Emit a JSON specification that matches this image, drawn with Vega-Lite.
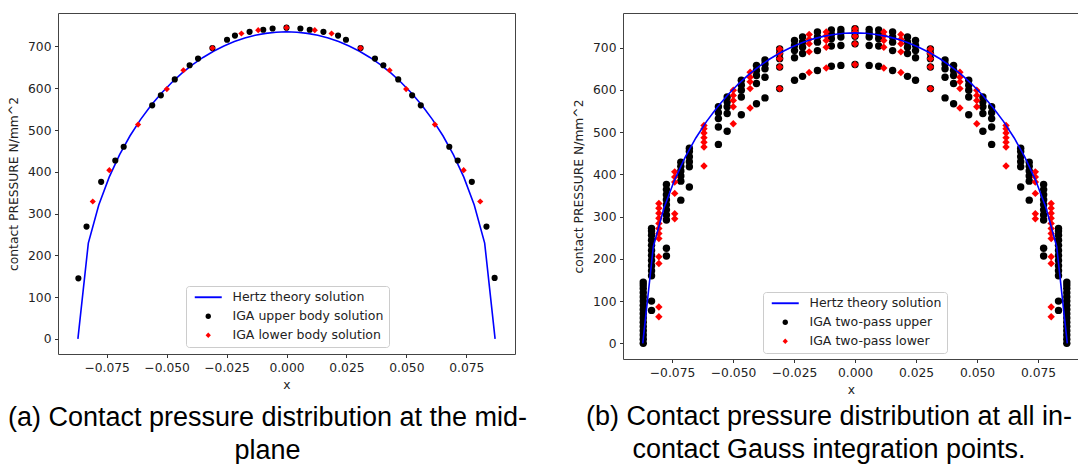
{
  "$schema": "https://vega.github.io/schema/vega-lite/v6.json",
  "padding": {"left": 7, "top": 12, "right": 0, "bottom": 0},
  "autosize": {"type": "pad"},
  "background": "white",
  "config": {
    "view": {"stroke": "#444444", "strokeWidth": 1},
    "axis": {"domain": false, "grid": false, "labelFont": "DejaVu Sans", "labelFontSize": 12.3, "labelColor": "#222222", "tickColor": "#333333", "tickSize": 3.5, "labelPadding": 3.5, "titleFont": "DejaVu Sans", "titleFontSize": 12.3, "titleFontWeight": "normal", "titleColor": "#222222"},
    "axisX": {"titlePadding": 5},
    "axisY": {"titlePadding": 7},
    "legend": {"labelFont": "DejaVu Sans", "labelFontSize": 12.5, "labelColor": "#222222", "title": null, "orient": "none", "padding": 5, "cornerRadius": 3, "strokeColor": "#cccccc", "fillColor": "rgba(255,255,255,0.8)", "rowPadding": 6, "labelOffset": 18, "symbolOffset": 11, "symbolSize": 28},
    "title": {"font": "Liberation Sans", "fontSize": 27, "fontWeight": "normal", "color": "#000000", "lineHeight": 33}
  },
  "datasets": {
    "hertz": [
      {"x": -0.087, "p": 0}, {"x": -0.08265, "p": 229.5}, {"x": -0.0783, "p": 320.4}, {"x": -0.07395, "p": 387.2}, {"x": -0.0696, "p": 441.0}, {"x": -0.06525, "p": 486.2}, {"x": -0.0609, "p": 524.9}, {"x": -0.05655, "p": 558.5}, {"x": -0.0522, "p": 588.0}, {"x": -0.04785, "p": 613.8}, {"x": -0.0435, "p": 636.5}, {"x": -0.03915, "p": 656.4}, {"x": -0.0348, "p": 673.6}, {"x": -0.03045, "p": 688.5}, {"x": -0.0261, "p": 701.1}, {"x": -0.02175, "p": 711.7}, {"x": -0.0174, "p": 720.2}, {"x": -0.01305, "p": 726.7}, {"x": -0.0087, "p": 731.3}, {"x": -0.00435, "p": 734.1},
      {"x": 0, "p": 735},
      {"x": 0.00435, "p": 734.1}, {"x": 0.0087, "p": 731.3}, {"x": 0.01305, "p": 726.7}, {"x": 0.0174, "p": 720.2}, {"x": 0.02175, "p": 711.7}, {"x": 0.0261, "p": 701.1}, {"x": 0.03045, "p": 688.5}, {"x": 0.0348, "p": 673.6}, {"x": 0.03915, "p": 656.4}, {"x": 0.0435, "p": 636.5}, {"x": 0.04785, "p": 613.8}, {"x": 0.0522, "p": 588.0}, {"x": 0.05655, "p": 558.5}, {"x": 0.0609, "p": 524.9}, {"x": 0.06525, "p": 486.2}, {"x": 0.0696, "p": 441.0}, {"x": 0.07395, "p": 387.2}, {"x": 0.0783, "p": 320.4}, {"x": 0.08265, "p": 229.5}, {"x": 0.087, "p": 0}
    ],
    "a": [
      {"x": -0.0868, "p": 145, "s": "U"}, {"x": -0.0834, "p": 269, "s": "U"}, {"x": -0.0773, "p": 376, "s": "U"}, {"x": -0.0714, "p": 427, "s": "U"}, {"x": -0.0679, "p": 460, "s": "U"}, {"x": -0.056, "p": 559, "s": "U"}, {"x": -0.0524, "p": 583, "s": "U"}, {"x": -0.0466, "p": 621, "s": "U"}, {"x": -0.0404, "p": 655, "s": "U"}, {"x": -0.0369, "p": 671, "s": "U"}, {"x": -0.0309, "p": 696, "s": "U"}, {"x": -0.0248, "p": 716, "s": "U"}, {"x": -0.0215, "p": 726, "s": "U"}, {"x": -0.0154, "p": 735, "s": "U"}, {"x": -0.0097, "p": 740, "s": "U"}, {"x": -0.0058, "p": 743, "s": "U"}, {"x": 0, "p": 745, "s": "U"}, {"x": 0.0058, "p": 743, "s": "U"}, {"x": 0.0097, "p": 740, "s": "U"}, {"x": 0.0154, "p": 735, "s": "U"}, {"x": 0.0215, "p": 726, "s": "U"}, {"x": 0.0248, "p": 716, "s": "U"}, {"x": 0.0309, "p": 696, "s": "U"}, {"x": 0.0369, "p": 671, "s": "U"}, {"x": 0.0404, "p": 655, "s": "U"}, {"x": 0.0466, "p": 621, "s": "U"}, {"x": 0.0524, "p": 583, "s": "U"}, {"x": 0.056, "p": 559, "s": "U"}, {"x": 0.0679, "p": 460, "s": "U"}, {"x": 0.0714, "p": 427, "s": "U"}, {"x": 0.0773, "p": 376, "s": "U"}, {"x": 0.0834, "p": 269, "s": "U"}, {"x": 0.0868, "p": 146, "s": "U"},
      {"x": -0.0808, "p": 329, "s": "L"}, {"x": -0.0739, "p": 404, "s": "L"}, {"x": -0.0619, "p": 513, "s": "L"}, {"x": -0.0499, "p": 598, "s": "L"}, {"x": -0.043, "p": 643, "s": "L"}, {"x": -0.0309, "p": 696, "s": "L"}, {"x": -0.0188, "p": 731, "s": "L"}, {"x": -0.0118, "p": 739, "s": "L"}, {"x": 0, "p": 745, "s": "L"}, {"x": 0.0118, "p": 739, "s": "L"}, {"x": 0.0188, "p": 731, "s": "L"}, {"x": 0.0309, "p": 696, "s": "L"}, {"x": 0.043, "p": 643, "s": "L"}, {"x": 0.0499, "p": 598, "s": "L"}, {"x": 0.0619, "p": 513, "s": "L"}, {"x": 0.0739, "p": 404, "s": "L"}, {"x": 0.0808, "p": 329, "s": "L"}
    ],
    "b": [
      {"x": -0.0868, "p": 0, "s": "U"}, {"x": -0.0868, "p": 10, "s": "U"}, {"x": -0.0868, "p": 20, "s": "U"}, {"x": -0.0868, "p": 30, "s": "U"}, {"x": -0.0868, "p": 40, "s": "U"}, {"x": -0.0868, "p": 50, "s": "U"}, {"x": -0.0868, "p": 60, "s": "U"}, {"x": -0.0868, "p": 70, "s": "U"}, {"x": -0.0868, "p": 80, "s": "U"}, {"x": -0.0868, "p": 90, "s": "U"}, {"x": -0.0868, "p": 100, "s": "U"}, {"x": -0.0868, "p": 110, "s": "U"}, {"x": -0.0868, "p": 120, "s": "U"}, {"x": -0.0868, "p": 130, "s": "U"}, {"x": -0.0868, "p": 138, "s": "U"}, {"x": -0.0868, "p": 145, "s": "U"},
      {"x": -0.0834, "p": 160, "s": "U"}, {"x": -0.0834, "p": 172, "s": "U"}, {"x": -0.0834, "p": 184, "s": "U"}, {"x": -0.0834, "p": 196, "s": "U"}, {"x": -0.0834, "p": 208, "s": "U"}, {"x": -0.0834, "p": 220, "s": "U"}, {"x": -0.0834, "p": 232, "s": "U"}, {"x": -0.0834, "p": 244, "s": "U"}, {"x": -0.0834, "p": 256, "s": "U"}, {"x": -0.0834, "p": 266, "s": "U"}, {"x": -0.0834, "p": 272, "s": "U"}, {"x": -0.0834, "p": 100, "s": "U"}, {"x": -0.0834, "p": 78, "s": "U"},
      {"x": -0.0773, "p": 292, "s": "U"}, {"x": -0.0773, "p": 304, "s": "U"}, {"x": -0.0773, "p": 316, "s": "U"}, {"x": -0.0773, "p": 328, "s": "U"}, {"x": -0.0773, "p": 340, "s": "U"}, {"x": -0.0773, "p": 352, "s": "U"}, {"x": -0.0773, "p": 364, "s": "U"}, {"x": -0.0773, "p": 376, "s": "U"}, {"x": -0.0773, "p": 225, "s": "U"}, {"x": -0.0773, "p": 207, "s": "U"},
      {"x": -0.0714, "p": 384, "s": "U"}, {"x": -0.0714, "p": 396, "s": "U"}, {"x": -0.0714, "p": 408, "s": "U"}, {"x": -0.0714, "p": 419, "s": "U"}, {"x": -0.0714, "p": 429, "s": "U"}, {"x": -0.0714, "p": 339, "s": "U"},
      {"x": -0.0679, "p": 418, "s": "U"}, {"x": -0.0679, "p": 430, "s": "U"}, {"x": -0.0679, "p": 442, "s": "U"}, {"x": -0.0679, "p": 454, "s": "U"}, {"x": -0.0679, "p": 462, "s": "U"}, {"x": -0.0679, "p": 370, "s": "U"},
      {"x": -0.056, "p": 532, "s": "U"}, {"x": -0.056, "p": 546, "s": "U"}, {"x": -0.056, "p": 560, "s": "U"}, {"x": -0.056, "p": 512, "s": "U"}, {"x": -0.056, "p": 471, "s": "U"},
      {"x": -0.0524, "p": 560, "s": "U"}, {"x": -0.0524, "p": 572, "s": "U"}, {"x": -0.0524, "p": 583, "s": "U"}, {"x": -0.0524, "p": 544, "s": "U"}, {"x": -0.0524, "p": 502, "s": "U"},
      {"x": -0.0466, "p": 599, "s": "U"}, {"x": -0.0466, "p": 611, "s": "U"}, {"x": -0.0466, "p": 623, "s": "U"}, {"x": -0.0466, "p": 583, "s": "U"}, {"x": -0.0466, "p": 541, "s": "U"},
      {"x": -0.0404, "p": 634, "s": "U"}, {"x": -0.0404, "p": 646, "s": "U"}, {"x": -0.0404, "p": 658, "s": "U"}, {"x": -0.0404, "p": 615, "s": "U"}, {"x": -0.0404, "p": 567, "s": "U"},
      {"x": -0.0369, "p": 650, "s": "U"}, {"x": -0.0369, "p": 661, "s": "U"}, {"x": -0.0369, "p": 671, "s": "U"}, {"x": -0.0369, "p": 630, "s": "U"}, {"x": -0.0369, "p": 581, "s": "U"},
      {"x": -0.0309, "p": 674, "s": "U"}, {"x": -0.0309, "p": 686, "s": "U"}, {"x": -0.0309, "p": 697, "s": "U"}, {"x": -0.0309, "p": 654, "s": "U"}, {"x": -0.0309, "p": 603, "s": "U"},
      {"x": -0.0248, "p": 693, "s": "U"}, {"x": -0.0248, "p": 705, "s": "U"}, {"x": -0.0248, "p": 717, "s": "U"}, {"x": -0.0248, "p": 676, "s": "U"}, {"x": -0.0248, "p": 623, "s": "U"},
      {"x": -0.0215, "p": 701, "s": "U"}, {"x": -0.0215, "p": 713, "s": "U"}, {"x": -0.0215, "p": 725, "s": "U"}, {"x": -0.0215, "p": 686, "s": "U"}, {"x": -0.0215, "p": 632, "s": "U"},
      {"x": -0.0154, "p": 713, "s": "U"}, {"x": -0.0154, "p": 725, "s": "U"}, {"x": -0.0154, "p": 737, "s": "U"}, {"x": -0.0154, "p": 693, "s": "U"}, {"x": -0.0154, "p": 646, "s": "U"},
      {"x": -0.0097, "p": 721, "s": "U"}, {"x": -0.0097, "p": 731, "s": "U"}, {"x": -0.0097, "p": 742, "s": "U"}, {"x": -0.0097, "p": 704, "s": "U"}, {"x": -0.0097, "p": 656, "s": "U"},
      {"x": -0.0058, "p": 725, "s": "U"}, {"x": -0.0058, "p": 735, "s": "U"}, {"x": -0.0058, "p": 743, "s": "U"}, {"x": -0.0058, "p": 705, "s": "U"}, {"x": -0.0058, "p": 658, "s": "U"},
      {"x": 0, "p": 727, "s": "U"}, {"x": 0, "p": 737, "s": "U"}, {"x": 0, "p": 745, "s": "U"}, {"x": 0, "p": 709, "s": "U"}, {"x": 0, "p": 660, "s": "U"},
      {"x": 0.0058, "p": 725, "s": "U"}, {"x": 0.0058, "p": 735, "s": "U"}, {"x": 0.0058, "p": 743, "s": "U"}, {"x": 0.0058, "p": 705, "s": "U"}, {"x": 0.0058, "p": 658, "s": "U"},
      {"x": 0.0097, "p": 721, "s": "U"}, {"x": 0.0097, "p": 731, "s": "U"}, {"x": 0.0097, "p": 742, "s": "U"}, {"x": 0.0097, "p": 704, "s": "U"}, {"x": 0.0097, "p": 656, "s": "U"},
      {"x": 0.0154, "p": 713, "s": "U"}, {"x": 0.0154, "p": 725, "s": "U"}, {"x": 0.0154, "p": 737, "s": "U"}, {"x": 0.0154, "p": 693, "s": "U"}, {"x": 0.0154, "p": 646, "s": "U"},
      {"x": 0.0215, "p": 701, "s": "U"}, {"x": 0.0215, "p": 713, "s": "U"}, {"x": 0.0215, "p": 725, "s": "U"}, {"x": 0.0215, "p": 686, "s": "U"}, {"x": 0.0215, "p": 632, "s": "U"},
      {"x": 0.0248, "p": 693, "s": "U"}, {"x": 0.0248, "p": 705, "s": "U"}, {"x": 0.0248, "p": 717, "s": "U"}, {"x": 0.0248, "p": 676, "s": "U"}, {"x": 0.0248, "p": 623, "s": "U"},
      {"x": 0.0309, "p": 674, "s": "U"}, {"x": 0.0309, "p": 686, "s": "U"}, {"x": 0.0309, "p": 697, "s": "U"}, {"x": 0.0309, "p": 654, "s": "U"}, {"x": 0.0309, "p": 603, "s": "U"},
      {"x": 0.0369, "p": 650, "s": "U"}, {"x": 0.0369, "p": 661, "s": "U"}, {"x": 0.0369, "p": 671, "s": "U"}, {"x": 0.0369, "p": 630, "s": "U"}, {"x": 0.0369, "p": 581, "s": "U"},
      {"x": 0.0404, "p": 634, "s": "U"}, {"x": 0.0404, "p": 646, "s": "U"}, {"x": 0.0404, "p": 658, "s": "U"}, {"x": 0.0404, "p": 615, "s": "U"}, {"x": 0.0404, "p": 567, "s": "U"},
      {"x": 0.0466, "p": 599, "s": "U"}, {"x": 0.0466, "p": 611, "s": "U"}, {"x": 0.0466, "p": 623, "s": "U"}, {"x": 0.0466, "p": 583, "s": "U"}, {"x": 0.0466, "p": 541, "s": "U"},
      {"x": 0.0524, "p": 560, "s": "U"}, {"x": 0.0524, "p": 572, "s": "U"}, {"x": 0.0524, "p": 583, "s": "U"}, {"x": 0.0524, "p": 544, "s": "U"}, {"x": 0.0524, "p": 502, "s": "U"},
      {"x": 0.056, "p": 532, "s": "U"}, {"x": 0.056, "p": 546, "s": "U"}, {"x": 0.056, "p": 560, "s": "U"}, {"x": 0.056, "p": 512, "s": "U"}, {"x": 0.056, "p": 471, "s": "U"},
      {"x": 0.0679, "p": 418, "s": "U"}, {"x": 0.0679, "p": 430, "s": "U"}, {"x": 0.0679, "p": 442, "s": "U"}, {"x": 0.0679, "p": 454, "s": "U"}, {"x": 0.0679, "p": 462, "s": "U"}, {"x": 0.0679, "p": 370, "s": "U"},
      {"x": 0.0714, "p": 384, "s": "U"}, {"x": 0.0714, "p": 396, "s": "U"}, {"x": 0.0714, "p": 408, "s": "U"}, {"x": 0.0714, "p": 419, "s": "U"}, {"x": 0.0714, "p": 429, "s": "U"}, {"x": 0.0714, "p": 339, "s": "U"},
      {"x": 0.0773, "p": 292, "s": "U"}, {"x": 0.0773, "p": 304, "s": "U"}, {"x": 0.0773, "p": 316, "s": "U"}, {"x": 0.0773, "p": 328, "s": "U"}, {"x": 0.0773, "p": 340, "s": "U"}, {"x": 0.0773, "p": 352, "s": "U"}, {"x": 0.0773, "p": 364, "s": "U"}, {"x": 0.0773, "p": 376, "s": "U"}, {"x": 0.0773, "p": 225, "s": "U"}, {"x": 0.0773, "p": 207, "s": "U"},
      {"x": 0.0834, "p": 160, "s": "U"}, {"x": 0.0834, "p": 172, "s": "U"}, {"x": 0.0834, "p": 184, "s": "U"}, {"x": 0.0834, "p": 196, "s": "U"}, {"x": 0.0834, "p": 208, "s": "U"}, {"x": 0.0834, "p": 220, "s": "U"}, {"x": 0.0834, "p": 232, "s": "U"}, {"x": 0.0834, "p": 244, "s": "U"}, {"x": 0.0834, "p": 256, "s": "U"}, {"x": 0.0834, "p": 266, "s": "U"}, {"x": 0.0834, "p": 272, "s": "U"}, {"x": 0.0834, "p": 100, "s": "U"}, {"x": 0.0834, "p": 78, "s": "U"},
      {"x": 0.0868, "p": 0, "s": "U"}, {"x": 0.0868, "p": 10, "s": "U"}, {"x": 0.0868, "p": 20, "s": "U"}, {"x": 0.0868, "p": 30, "s": "U"}, {"x": 0.0868, "p": 40, "s": "U"}, {"x": 0.0868, "p": 50, "s": "U"}, {"x": 0.0868, "p": 60, "s": "U"}, {"x": 0.0868, "p": 70, "s": "U"}, {"x": 0.0868, "p": 80, "s": "U"}, {"x": 0.0868, "p": 90, "s": "U"}, {"x": 0.0868, "p": 100, "s": "U"}, {"x": 0.0868, "p": 110, "s": "U"}, {"x": 0.0868, "p": 120, "s": "U"}, {"x": 0.0868, "p": 130, "s": "U"}, {"x": 0.0868, "p": 138, "s": "U"}, {"x": 0.0868, "p": 145, "s": "U"},
      {"x": -0.0804, "p": 248, "s": "L"}, {"x": -0.0804, "p": 260, "s": "L"}, {"x": -0.0804, "p": 272, "s": "L"}, {"x": -0.0804, "p": 284, "s": "L"}, {"x": -0.0804, "p": 296, "s": "L"}, {"x": -0.0804, "p": 308, "s": "L"}, {"x": -0.0804, "p": 320, "s": "L"}, {"x": -0.0804, "p": 331, "s": "L"}, {"x": -0.0804, "p": 205, "s": "L"}, {"x": -0.0804, "p": 189, "s": "L"}, {"x": -0.0804, "p": 86, "s": "L"}, {"x": -0.0804, "p": 63, "s": "L"},
      {"x": -0.0739, "p": 382, "s": "L"}, {"x": -0.0739, "p": 394, "s": "L"}, {"x": -0.0739, "p": 406, "s": "L"}, {"x": -0.0739, "p": 355, "s": "L"}, {"x": -0.0739, "p": 307, "s": "L"}, {"x": -0.0739, "p": 295, "s": "L"},
      {"x": -0.0619, "p": 465, "s": "L"}, {"x": -0.0619, "p": 476, "s": "L"}, {"x": -0.0619, "p": 487, "s": "L"}, {"x": -0.0619, "p": 498, "s": "L"}, {"x": -0.0619, "p": 508, "s": "L"}, {"x": -0.0619, "p": 516, "s": "L"}, {"x": -0.0619, "p": 420, "s": "L"},
      {"x": -0.0499, "p": 575, "s": "L"}, {"x": -0.0499, "p": 587, "s": "L"}, {"x": -0.0499, "p": 599, "s": "L"}, {"x": -0.0499, "p": 560, "s": "L"}, {"x": -0.0499, "p": 520, "s": "L"},
      {"x": -0.043, "p": 619, "s": "L"}, {"x": -0.043, "p": 630, "s": "L"}, {"x": -0.043, "p": 642, "s": "L"}, {"x": -0.043, "p": 603, "s": "L"}, {"x": -0.043, "p": 557, "s": "L"},
      {"x": -0.0309, "p": 674, "s": "L"}, {"x": -0.0309, "p": 686, "s": "L"}, {"x": -0.0309, "p": 697, "s": "L"}, {"x": -0.0309, "p": 654, "s": "L"}, {"x": -0.0309, "p": 603, "s": "L"},
      {"x": -0.0188, "p": 709, "s": "L"}, {"x": -0.0188, "p": 720, "s": "L"}, {"x": -0.0188, "p": 731, "s": "L"}, {"x": -0.0188, "p": 690, "s": "L"}, {"x": -0.0188, "p": 641, "s": "L"},
      {"x": -0.0118, "p": 717, "s": "L"}, {"x": -0.0118, "p": 728, "s": "L"}, {"x": -0.0118, "p": 737, "s": "L"}, {"x": -0.0118, "p": 701, "s": "L"}, {"x": -0.0118, "p": 652, "s": "L"},
      {"x": 0, "p": 727, "s": "L"}, {"x": 0, "p": 737, "s": "L"}, {"x": 0, "p": 745, "s": "L"}, {"x": 0, "p": 709, "s": "L"}, {"x": 0, "p": 660, "s": "L"},
      {"x": 0.0118, "p": 717, "s": "L"}, {"x": 0.0118, "p": 728, "s": "L"}, {"x": 0.0118, "p": 737, "s": "L"}, {"x": 0.0118, "p": 701, "s": "L"}, {"x": 0.0118, "p": 652, "s": "L"},
      {"x": 0.0188, "p": 709, "s": "L"}, {"x": 0.0188, "p": 720, "s": "L"}, {"x": 0.0188, "p": 731, "s": "L"}, {"x": 0.0188, "p": 690, "s": "L"}, {"x": 0.0188, "p": 641, "s": "L"},
      {"x": 0.0309, "p": 674, "s": "L"}, {"x": 0.0309, "p": 686, "s": "L"}, {"x": 0.0309, "p": 697, "s": "L"}, {"x": 0.0309, "p": 654, "s": "L"}, {"x": 0.0309, "p": 603, "s": "L"},
      {"x": 0.043, "p": 619, "s": "L"}, {"x": 0.043, "p": 630, "s": "L"}, {"x": 0.043, "p": 642, "s": "L"}, {"x": 0.043, "p": 603, "s": "L"}, {"x": 0.043, "p": 557, "s": "L"},
      {"x": 0.0499, "p": 575, "s": "L"}, {"x": 0.0499, "p": 587, "s": "L"}, {"x": 0.0499, "p": 599, "s": "L"}, {"x": 0.0499, "p": 560, "s": "L"}, {"x": 0.0499, "p": 520, "s": "L"},
      {"x": 0.0619, "p": 465, "s": "L"}, {"x": 0.0619, "p": 476, "s": "L"}, {"x": 0.0619, "p": 487, "s": "L"}, {"x": 0.0619, "p": 498, "s": "L"}, {"x": 0.0619, "p": 508, "s": "L"}, {"x": 0.0619, "p": 516, "s": "L"}, {"x": 0.0619, "p": 420, "s": "L"},
      {"x": 0.0739, "p": 382, "s": "L"}, {"x": 0.0739, "p": 394, "s": "L"}, {"x": 0.0739, "p": 406, "s": "L"}, {"x": 0.0739, "p": 355, "s": "L"}, {"x": 0.0739, "p": 307, "s": "L"}, {"x": 0.0739, "p": 295, "s": "L"},
      {"x": 0.0804, "p": 248, "s": "L"}, {"x": 0.0804, "p": 260, "s": "L"}, {"x": 0.0804, "p": 272, "s": "L"}, {"x": 0.0804, "p": 284, "s": "L"}, {"x": 0.0804, "p": 296, "s": "L"}, {"x": 0.0804, "p": 308, "s": "L"}, {"x": 0.0804, "p": 320, "s": "L"}, {"x": 0.0804, "p": 331, "s": "L"}, {"x": 0.0804, "p": 205, "s": "L"}, {"x": 0.0804, "p": 189, "s": "L"}, {"x": 0.0804, "p": 86, "s": "L"}, {"x": 0.0804, "p": 63, "s": "L"}
    ]
  },
  "resolve": {"scale": {"color": "independent", "shape": "independent", "x": "independent", "y": "independent"}, "legend": {"color": "independent", "shape": "independent"}},
  "spacing": 44,
  "hconcat": [
    {
      "width": 457,
      "height": 341,
      "title": {"text": ["(a) Contact pressure distribution at the mid-", "plane"], "orient": "bottom", "anchor": "middle", "offset": 14, "dx": -19},
      "layer": [
        {
          "data": {"name": "hertz"},
          "mark": {"type": "line", "color": "#0000ff", "strokeWidth": 1.6},
          "encoding": {
            "x": {"field": "x", "type": "quantitative", "scale": {"domain": [-0.0953, 0.0953], "nice": false, "zero": false}, "axis": {"values": [-0.075, -0.05, -0.025, 0, 0.025, 0.05, 0.075], "format": ".3f", "title": "x"}},
            "y": {"field": "p", "type": "quantitative", "scale": {"domain": [-36, 780], "nice": false}, "axis": {"values": [0, 100, 200, 300, 400, 500, 600, 700], "title": "contact PRESSURE N/mm^2"}}
          }
        },
        {
          "data": {"name": "a"},
          "mark": {"type": "point", "filled": true, "opacity": 1, "size": 38},
          "encoding": {
            "x": {"field": "x", "type": "quantitative"},
            "y": {"field": "p", "type": "quantitative"},
            "color": {"field": "s", "type": "nominal", "scale": {"domain": ["H", "U", "L"], "range": ["#0000ff", "#000000", "#ff0000"]},
              "legend": {"legendX": 128, "legendY": 273, "labelExpr": "datum.label == 'H' ? 'Hertz theory solution' : datum.label == 'U' ? 'IGA upper body solution' : 'IGA lower body solution'"}},
            "shape": {"field": "s", "type": "nominal", "scale": {"domain": ["H", "U", "L"], "range": ["M-5.1,-0.36L5.1,-0.36L5.1,0.36L-5.1,0.36Z", "circle", "diamond"]},
              "legend": {"legendX": 128, "legendY": 273, "labelExpr": "datum.label == 'H' ? 'Hertz theory solution' : datum.label == 'U' ? 'IGA upper body solution' : 'IGA lower body solution'"}}
          }
        }
      ]
    },
    {
      "width": 456,
      "height": 346,
      "view": {"stroke": null},
      "title": {"text": ["(b) Contact pressure distribution at all in-", "contact Gauss integration points."], "orient": "bottom", "anchor": "middle", "offset": 8, "dx": -22},
      "resolve": {"axis": {"x": "independent"}},
      "layer": [
        {
          "data": {"name": "b"},
          "mark": {"type": "point", "filled": true, "opacity": 1, "size": 55},
          "encoding": {
            "x": {"field": "x", "type": "quantitative", "scale": {"domain": [-0.0951, 0.0918], "nice": false, "zero": false}, "axis": {"values": [-0.075, -0.05, -0.025, 0, 0.025, 0.05, 0.075], "format": ".3f", "title": "x", "domain": true, "domainColor": "#444444"}},
            "y": {"field": "p", "type": "quantitative", "scale": {"domain": [-37, 782], "nice": false}, "axis": {"values": [0, 100, 200, 300, 400, 500, 600, 700], "title": "contact PRESSURE N/mm^2", "domain": true, "domainColor": "#444444"}},
            "color": {"field": "s", "type": "nominal", "scale": {"domain": ["H", "U", "L"], "range": ["#0000ff", "#000000", "#ff0000"]},
              "legend": {"legendX": 140, "legendY": 279, "labelExpr": "datum.label == 'H' ? 'Hertz theory solution' : datum.label == 'U' ? 'IGA two-pass upper' : 'IGA two-pass lower'"}},
            "shape": {"field": "s", "type": "nominal", "scale": {"domain": ["H", "U", "L"], "range": ["M-5.1,-0.36L5.1,-0.36L5.1,0.36L-5.1,0.36Z", "circle", "diamond"]},
              "legend": {"legendX": 140, "legendY": 279, "labelExpr": "datum.label == 'H' ? 'Hertz theory solution' : datum.label == 'U' ? 'IGA two-pass upper' : 'IGA two-pass lower'"}}
          }
        },
        {
          "data": {"name": "hertz"},
          "mark": {"type": "line", "color": "#0000ff", "strokeWidth": 1.6},
          "encoding": {
            "x": {"field": "x", "type": "quantitative", "axis": {"orient": "top", "labels": false, "ticks": false, "title": null, "domain": true, "domainColor": "#444444"}},
            "y": {"field": "p", "type": "quantitative"}
          }
        }
      ]
    }
  ]
}
